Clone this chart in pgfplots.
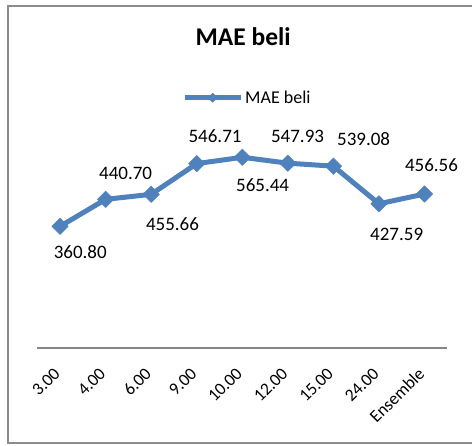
\documentclass[border=0pt]{standalone}
\usepackage{fontspec}
\setmainfont{Carlito}
\usepackage{pgfplots}
\pgfplotsset{compat=1.18}
\usepackage{pgfplotstable}
\definecolor{xlblue}{HTML}{4F81BD}
\definecolor{axgray}{HTML}{868686}
\definecolor{framegray}{HTML}{8C8C8C}

\pgfplotstableread{
x y lab dx dy
0 360.80 360.80 20.2 -25.4
1 440.70 440.70 20.0 26.4
2 455.66 455.66 21.3 -30.2
3 546.71 546.71 18.3 27.1
4 565.44 565.44 20.3 -28.2
5 547.93 547.93 9.7 26.9
6 539.08 539.08 30.2 27.0
7 427.59 427.59 17.7 -30.7
8 456.56 456.56 7.0 28.5
}\datatable

\begin{document}
\begin{tikzpicture}
\useasboundingbox (0,0) rectangle (472pt,446pt);
\fill[white] (0,0) rectangle (472pt,446pt);
\begin{axis}[
 at={(37.3pt,98pt)}, anchor=south west, scale only axis, width=410pt, height=236.1pt,
 xmin=-0.5, xmax=8.5, ymin=0, ymax=700, clip=false,
 axis x line=bottom, axis y line=none,
 x axis line style={-, draw=axgray, line width=1.5pt},
 xtick={0,...,8}, xticklabels={3.00,4.00,6.00,9.00,10.00,12.00,15.00,24.00,Ensemble},
 xtick style={draw=none}, ytick=\empty,
 xticklabel style={rotate=45, anchor=east, font=\fontsize{17.5}{20}\selectfont, inner sep=0pt, xshift=-16.6pt, yshift=-12.4pt},
 title={MAE beli},
 title style={at={(axis description cs:0.502,1.292)}, anchor=center, font=\fontsize{25.5}{30}\selectfont\bfseries},
 legend style={at={(axis description cs:0.353,1.060)}, anchor=west, draw=none, fill=none, font=\fontsize{18}{21}\selectfont, inner sep=0pt, legend cell align=left},
 legend image code/.code={\draw[mark repeat=2,mark phase=2,#1] plot coordinates {(0pt,0pt) (28pt,0pt) (56pt,0pt)};},
]
\addplot[xlblue, line width=5pt, line join=round, mark=square*, mark size=5.8pt, mark options={rotate=45, solid, line width=0.5pt},
 forget plot,
 point meta=explicit symbolic,
 nodes near coords,
 visualization depends on={\thisrow{dx}\as\ldx},
 visualization depends on={\thisrow{dy}\as\ldy},
 every node near coord/.append style={anchor=center, xshift=\ldx pt, yshift=\ldy pt, text=black, font=\fontsize{19}{22}\selectfont, inner sep=0pt},
] table[x=x, y=y, meta=lab] {\datatable};
\addlegendimage{xlblue, line width=5pt, line join=round, mark=square*, mark size=3.2pt, mark options={rotate=45, solid, line width=0.5pt}}
\addlegendentry{MAE beli}
\end{axis}
\draw[framegray, line width=1.8pt] (480pt,440pt) -- (8.2pt,440pt) -- (8.2pt,2.7pt) -- (480pt,2.7pt);
\end{tikzpicture}
\end{document}
